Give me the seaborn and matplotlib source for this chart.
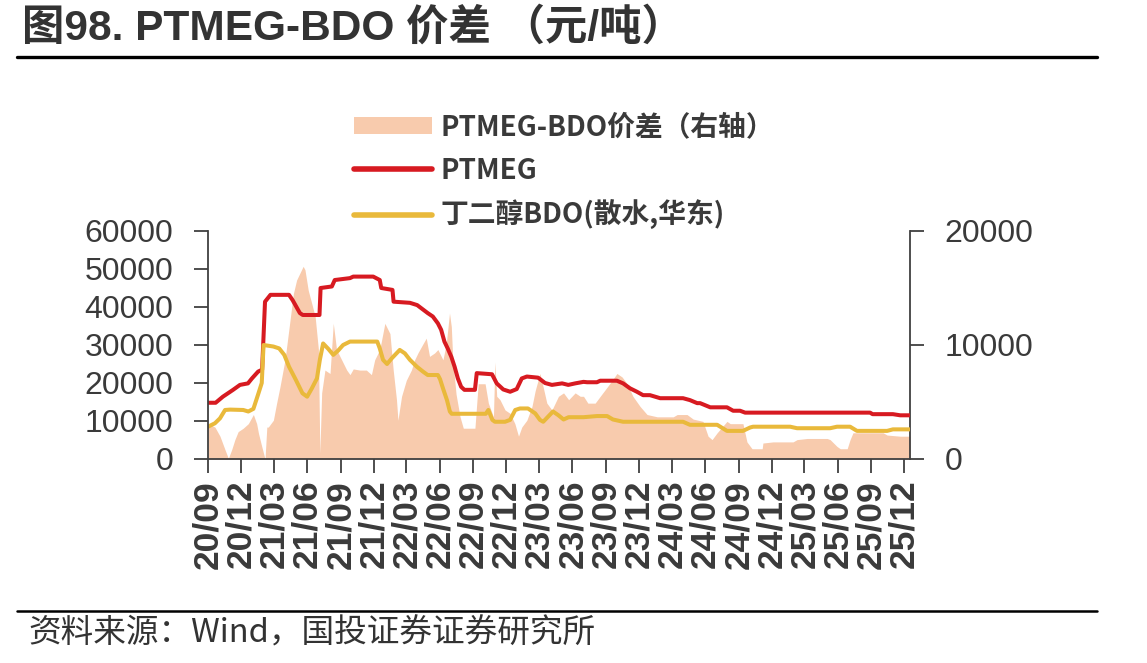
import numpy as np
import pandas as pd
import matplotlib
matplotlib.use("Agg")
import matplotlib.pyplot as plt
import matplotlib.dates as mdates
from matplotlib.patches import Patch
from matplotlib.lines import Line2D
import seaborn as sns

# ---------------- data ----------------
ptmeg_dates = ["2020-09-01", "2020-09-22", "2020-10-12", "2020-11-09", "2020-11-28", "2020-12-20",
               "2020-12-31", "2021-01-17", "2021-01-28", "2021-02-05", "2021-02-20", "2021-04-12",
               "2021-04-22", "2021-05-12", "2021-05-20", "2021-07-05", "2021-07-08", "2021-08-08",
               "2021-08-16", "2021-09-27", "2021-10-06", "2021-11-30", "2021-12-18", "2021-12-22",
               "2022-01-22", "2022-01-25", "2022-03-11", "2022-03-31", "2022-04-29", "2022-05-13",
               "2022-05-27", "2022-06-05", "2022-06-14", "2022-06-23", "2022-07-03", "2022-07-12",
               "2022-07-21", "2022-07-30", "2022-08-08", "2022-09-06", "2022-09-11", "2022-10-23",
               "2022-11-05", "2022-11-23", "2022-12-12", "2022-12-30", "2023-01-13", "2023-01-27",
               "2023-02-27", "2023-03-18", "2023-04-06", "2023-05-04", "2023-05-21", "2023-06-09",
               "2023-07-02", "2023-07-12", "2023-08-08", "2023-08-17", "2023-10-02", "2023-10-19",
               "2023-11-07", "2023-11-26", "2023-12-13", "2024-01-01", "2024-01-29", "2024-04-01",
               "2024-04-20", "2024-05-10", "2024-05-18", "2024-06-15", "2024-07-31", "2024-08-17",
               "2024-09-05", "2024-09-19", "2025-08-29", "2025-09-05", "2025-10-31", "2025-11-20",
               "2025-12-17"]
ptmeg_vals = [14800, 14800, 16400, 18200, 19500, 19900,
              21200, 23000, 23500, 41400, 43200, 43200,
              41800, 38400, 37900, 37900, 45000, 45400,
              47100, 47600, 48000, 48000, 47100, 45000,
              44500, 41400, 41100, 40500, 38400, 37500,
              35700, 34000, 30900, 29100, 26900, 24300,
              21200, 19000, 18200, 18200, 22600, 22300,
              19900, 18300, 17700, 18400, 21200, 21700,
              21400, 20000, 19500, 19900, 19500, 19900,
              20300, 20200, 20200, 20600, 20600, 19900,
              18600, 17700, 16800, 16800, 16000, 16000,
              15500, 14700, 14700, 13600, 13600, 12700,
              12700, 12200, 12200, 11800, 11800, 11500,
              11500]

bdo_dates = ["2020-09-01", "2020-09-20", "2020-10-04", "2020-10-18", "2020-11-01", "2020-12-07",
             "2020-12-21", "2021-01-04", "2021-01-18", "2021-01-27", "2021-02-01", "2021-02-28",
             "2021-03-16", "2021-03-30", "2021-04-12", "2021-05-01", "2021-05-19", "2021-06-01",
             "2021-06-14", "2021-06-28", "2021-07-06", "2021-07-15", "2021-07-29", "2021-08-12",
             "2021-08-25", "2021-09-08", "2021-09-27", "2021-12-11", "2021-12-18", "2021-12-27",
             "2022-01-07", "2022-01-20", "2022-02-11", "2022-02-25", "2022-03-11", "2022-03-30",
             "2022-04-16", "2022-04-29", "2022-05-27", "2022-06-02", "2022-06-10", "2022-06-21",
             "2022-06-29", "2022-07-04", "2022-10-06", "2022-10-13", "2022-10-24", "2022-10-31",
             "2022-11-28", "2022-12-12", "2022-12-26", "2023-01-08", "2023-01-30", "2023-02-19",
             "2023-03-04", "2023-03-13", "2023-03-27", "2023-04-09", "2023-04-24", "2023-05-08",
             "2023-05-22", "2023-07-02", "2023-08-08", "2023-09-05", "2023-09-21", "2023-10-19",
             "2024-04-01", "2024-04-20", "2024-07-04", "2024-07-31", "2024-09-13", "2024-10-03",
             "2024-10-11", "2025-01-21", "2025-02-09", "2025-05-11", "2025-05-30", "2025-07-05",
             "2025-07-24", "2025-10-15", "2025-10-31", "2025-12-17"]
bdo_vals = [8500, 9400, 10700, 12900, 13000, 12900,
            12500, 13200, 17300, 20000, 30000, 29600,
            29100, 27400, 24300, 20800, 17300, 16400,
            18600, 21200, 26100, 30400, 29000, 27400,
            28500, 30000, 30900, 30900, 29100, 26100,
            25000, 26500, 28700, 27800, 26100, 24300,
            23000, 22100, 22100, 21000, 18600, 15500,
            12500, 11900, 11900, 12900, 10300, 9800,
            9800, 10300, 12900, 13300, 13300, 12000,
            10300, 9800, 11200, 12500, 11500, 10400,
            11000, 11000, 11300, 11300, 10400, 9800,
            9800, 9000, 9000, 7400, 7400, 8300,
            8500, 8500, 8100, 8100, 8500, 8500,
            7400, 7400, 7800, 7800]

spread_dates = ["2020-09-01", "2020-09-20", "2020-10-04", "2020-10-18", "2020-10-27", "2020-11-05",
                "2020-11-14", "2020-11-23", "2020-12-07", "2020-12-21", "2021-01-04", "2021-01-13",
                "2021-01-18", "2021-01-27", "2021-02-05", "2021-02-10", "2021-02-14", "2021-02-28",
                "2021-03-09", "2021-03-18", "2021-04-01", "2021-04-15", "2021-04-24", "2021-05-03",
                "2021-05-12", "2021-05-21", "2021-05-26", "2021-06-04", "2021-06-14", "2021-06-23",
                "2021-07-02", "2021-07-06", "2021-07-11", "2021-07-20", "2021-08-03", "2021-08-12",
                "2021-08-21", "2021-09-04", "2021-09-18", "2021-09-27", "2021-10-06", "2021-10-24",
                "2021-11-11", "2021-11-25", "2021-12-04", "2021-12-18", "2022-01-01", "2022-01-15",
                "2022-01-24", "2022-02-02", "2022-02-06", "2022-02-16", "2022-03-01", "2022-03-15",
                "2022-03-24", "2022-04-02", "2022-04-16", "2022-04-25", "2022-05-04", "2022-05-18",
                "2022-05-27", "2022-06-10", "2022-06-19", "2022-06-28", "2022-07-03", "2022-07-07",
                "2022-07-16", "2022-07-27", "2022-08-05", "2022-09-06", "2022-09-15", "2022-10-04",
                "2022-10-13", "2022-10-27", "2022-10-31", "2022-11-05", "2022-11-14", "2022-11-28",
                "2022-12-12", "2022-12-25", "2023-01-04", "2023-01-13", "2023-01-27", "2023-02-10",
                "2023-02-19", "2023-03-04", "2023-03-13", "2023-03-23", "2023-04-06", "2023-04-24",
                "2023-05-08", "2023-05-22", "2023-06-09", "2023-06-23", "2023-07-02", "2023-07-14",
                "2023-08-03", "2023-08-17", "2023-09-05", "2023-09-19", "2023-10-02", "2023-10-16",
                "2023-10-30", "2023-11-15", "2023-12-05", "2023-12-24", "2024-01-21", "2024-03-05",
                "2024-03-16", "2024-04-12", "2024-04-29", "2024-05-26", "2024-06-09", "2024-06-20",
                "2024-07-04", "2024-07-31", "2024-08-09", "2024-09-13", "2024-09-24", "2024-10-08",
                "2024-11-05", "2024-11-07", "2024-12-05", "2025-01-29", "2025-02-09", "2025-03-09",
                "2025-05-03", "2025-05-11", "2025-05-30", "2025-06-08", "2025-06-27", "2025-07-05",
                "2025-07-13", "2025-10-04", "2025-10-15", "2025-11-20", "2025-12-17"]
spread_vals = [3100, 2800, 2000, 800, 60, 800,
               1700, 2400, 2700, 3100, 3900, 3100,
               2250, 1100, 0, 2800, 2800, 3400,
               4900, 6300, 8700, 12200, 14500, 15700,
               16300, 16900, 16600, 14800, 13600, 12500,
               9600, 500, 5800, 7800, 7500, 11900,
               9600, 8700, 7800, 7400, 7900, 7800,
               7800, 7400, 8700, 9600, 11900, 11000,
               7800, 5200, 3400, 5500, 6900, 7800,
               8700, 9300, 10100, 10600, 9000, 9300,
               9600, 8700, 10100, 12800, 11600, 8700,
               5700, 3700, 2700, 2700, 6600, 6600,
               4900, 3700, 8500, 5500, 5200, 4300,
               4000, 3100, 2000, 2800, 3400, 4600,
               6000, 7500, 6300, 4900, 4300, 5500,
               5800, 5200, 5800, 5500, 5500, 4900,
               4900, 5500, 6300, 6900, 7500, 7200,
               6600, 5500, 4600, 3900, 3700, 3700,
               3900, 3900, 3500, 3300, 2000, 1700,
               2300, 3300, 3100, 3100, 1500, 900,
               900, 1400, 1500, 1500, 1700, 1800,
               1800, 1700, 1100, 900, 900, 1700,
               2300, 2300, 2100, 2000, 2000]

left_ticks = [0, 10000, 20000, 30000, 40000, 50000, 60000]
right_ticks = [0, 10000, 20000]
legend_labels = ["PTMEG-BDO价差（右轴）", "PTMEG", "丁二醇BDO(散水,华东)"]
title_text = "图98. PTMEG-BDO 价差 （元/吨）"
source_text = "资料来源：Wind，国投证券证券研究所"

# ---------------- style ----------------
RED = "#D71A21"
YELLOW = "#E9B93B"
PEACH = "#F8CBAD"
SPINE = "#404040"
TXT = "#3a3a3a"

sns.set_theme(style="white")
plt.rcParams["font.family"] = ["Liberation Sans", "Noto Sans CJK SC", "DejaVu Sans"]

pt = pd.DataFrame({"date": pd.to_datetime(ptmeg_dates), "val": ptmeg_vals})
bd = pd.DataFrame({"date": pd.to_datetime(bdo_dates), "val": bdo_vals})
sp = pd.DataFrame({"date": pd.to_datetime(spread_dates), "val": spread_vals})

fig = plt.figure(figsize=(11.47, 6.63), dpi=100)
ax = fig.add_axes([208 / 1147, 1 - 459 / 663, (910 - 208) / 1147, (459 - 231) / 663])
ax2 = ax.twinx()

ax2.fill_between(sp["date"], sp["val"], 0, color=PEACH, linewidth=0)
sns.lineplot(data=pt, x="date", y="val", ax=ax, color=RED, linewidth=2.9)
sns.lineplot(data=bd, x="date", y="val", ax=ax, color=YELLOW, linewidth=2.9)

ax.set_zorder(ax2.get_zorder() + 1)
ax.patch.set_visible(False)

ax.set_xlim(pd.Timestamp("2020-09-01"), pd.Timestamp("2025-12-17"))
ax.set_ylim(0, 60000)
ax2.set_ylim(0, 20000)
ax.set_yticks(left_ticks)
ax2.set_yticks(right_ticks)
ax.set_yticklabels([str(v) for v in left_ticks])
ax2.set_yticklabels([str(v) for v in right_ticks])
ax.xaxis.set_major_locator(mdates.MonthLocator(bymonth=[3, 6, 9, 12]))
ax.xaxis.set_major_formatter(mdates.DateFormatter("%y/%m"))
ax.set_xlabel("")
ax.set_ylabel("")
ax2.set_ylabel("")

for a in (ax, ax2):
    for s in a.spines.values():
        s.set_visible(False)
        s.set_color(SPINE)
        s.set_linewidth(1.3)
ax.spines["left"].set_visible(True)
ax.spines["bottom"].set_visible(True)
ax2.spines["right"].set_visible(True)

ax.tick_params(axis="y", left=True, direction="out", length=10, width=1.3, color=SPINE,
               labelsize=23, pad=15, labelcolor=TXT)
ax.tick_params(axis="x", bottom=True, direction="out", length=10, width=1.3, color=SPINE,
               labelsize=25.5, pad=5, labelcolor=TXT, labelrotation=90)
ax2.tick_params(axis="y", right=True, direction="out", length=10, width=1.3, color=SPINE,
                labelsize=23, pad=15, labelcolor=TXT)
for lab in ax.get_xticklabels():
    lab.set_fontweight("bold")

# legend
handles = [Patch(facecolor=PEACH, edgecolor="none"),
           Line2D([], [], color=RED, linewidth=4),
           Line2D([], [], color=YELLOW, linewidth=4)]
leg = fig.legend(handles, legend_labels, loc="upper left", bbox_to_anchor=(343 / 1147, 1 - 102 / 663),
                 frameon=False, handlelength=2.8, handleheight=0.6, labelspacing=0.56,
                 handletextpad=0.3, borderaxespad=0,
                 prop={"family": ["Noto Sans CJK SC", "DejaVu Sans"], "size": 20, "weight": "bold"})
for t in leg.get_texts():
    t.set_color(TXT)

# title & rules
fig.text(22 / 1147, 1 - 28 / 663, title_text, ha="left", va="center", fontsize=30.5, fontweight="bold",
         color="#333333", family=["Liberation Sans", "Noto Sans CJK SC"])
fig.add_artist(Line2D([17 / 1147, 1097 / 1147], [1 - 57 / 663, 1 - 57 / 663], color="black", linewidth=2.4))
fig.add_artist(Line2D([17 / 1147, 1097 / 1147], [1 - 611 / 663, 1 - 611 / 663], color="black", linewidth=1.8))
fig.text(28 / 1147, 1 - 633 / 663, source_text, ha="left", va="center", fontsize=23.5, color="#333333",
         family=["Noto Sans CJK SC", "DejaVu Sans"])

fig.savefig("out.png", dpi=100)
